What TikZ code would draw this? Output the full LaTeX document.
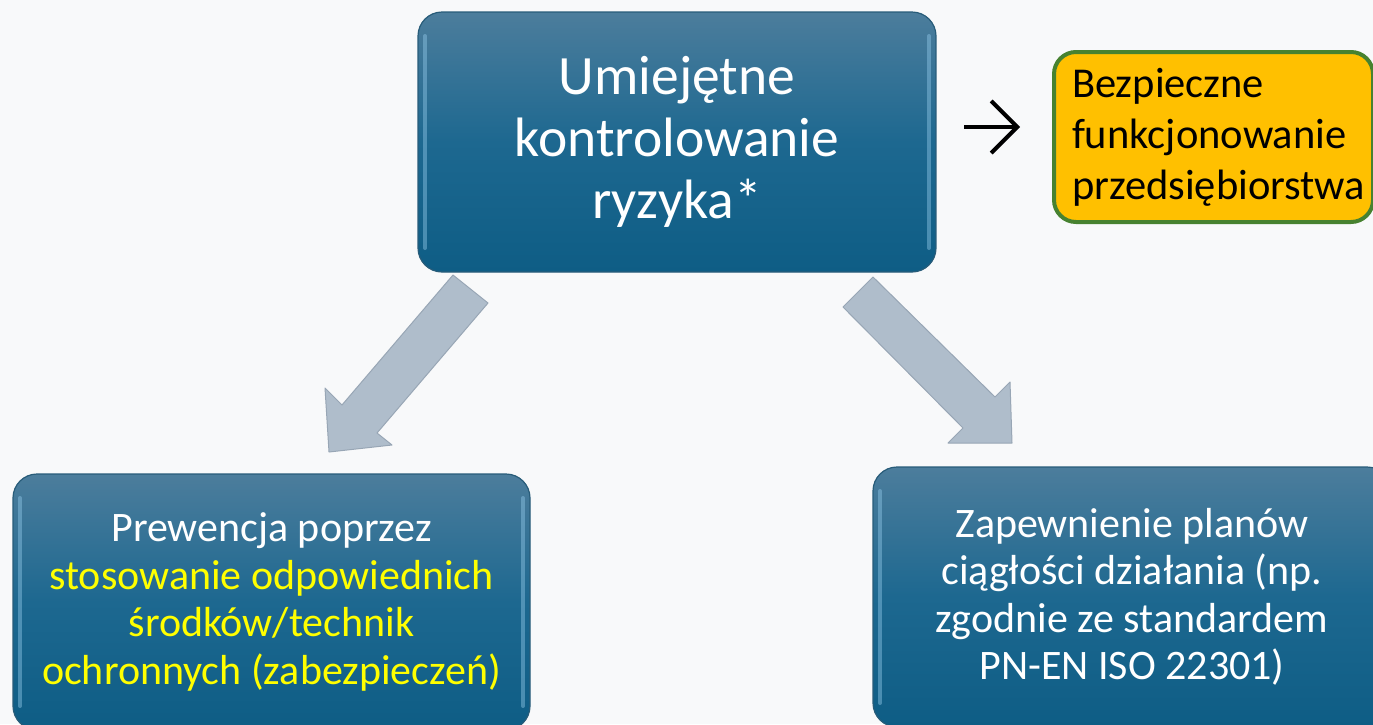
\documentclass[tikz,border=0pt]{standalone}
\usepackage{fontspec}
\setmainfont{Carlito}
\usetikzlibrary{arrows.meta}
\definecolor{bg}{HTML}{F8F9FA}
\definecolor{boxtop}{HTML}{4C7D9C}
\definecolor{boxmid}{HTML}{1D6890}
\definecolor{boxbot}{HTML}{0E5D85}
\definecolor{boxedge}{HTML}{285C79}
\definecolor{gloss}{HTML}{8FC6E6}
\definecolor{arrfill}{HTML}{AFBDCB}
\definecolor{arredge}{HTML}{98A6B5}
\definecolor{goldfill}{HTML}{FFC000}
\definecolor{goldedge}{HTML}{478230}
\definecolor{hl}{HTML}{FFFF00}
\begin{document}
\begin{tikzpicture}[x=1pt,y={(0pt,-1pt)},
  bluebox/.style={rounded corners=24pt, top color=boxtop, bottom color=boxbot, middle color=boxmid,
    draw=boxedge, line width=1.2pt, text=white, align=center, inner sep=0pt,
    path picture={
      \draw[gloss, line width=4pt, opacity=.45, line cap=round]
        ([xshift=7pt,yshift=-24pt]path picture bounding box.north west) --
        ([xshift=7pt,yshift=24pt]path picture bounding box.south west);
      \draw[gloss, line width=4pt, opacity=.45, line cap=round]
        ([xshift=-7pt,yshift=-24pt]path picture bounding box.north east) --
        ([xshift=-7pt,yshift=24pt]path picture bounding box.south east);
    }},
  goldbox/.style={rounded corners=22pt, fill=goldfill, draw=goldedge, line width=4pt,
    align=left, inner xsep=18pt, inner ysep=0pt, text=black},
  blockarrow/.style={fill=arrfill, draw=arredge, line width=1pt, line join=round},
  plainarrow/.style={line width=4pt, -{Straight Barb[length=26pt,width=52pt]}},
]
\fill[bg] (0,0) rectangle (1373,724);
\useasboundingbox (0,0) rectangle (1373,724);

% block arrows (connectors from the top box to the bottom boxes)
\coordinate (la1) at (453,275);
\coordinate (la2) at (488,303);
\coordinate (la3) at (377,433);
\coordinate (la4) at (392,445);
\coordinate (latip) at (329,452);
\coordinate (la6) at (325,388);
\coordinate (la7) at (342,405);
\draw[blockarrow] (la1) -- (la2) -- (la3) -- (la4) -- (latip) -- (la6) -- (la7) -- cycle;

\coordinate (ra1) at (873,277);
\coordinate (ra2) at (843,307);
\coordinate (ra3) at (963,428);
\coordinate (ra4) at (948,443);
\coordinate (ratip) at (1012,443);
\coordinate (ra6) at (1010,382);
\coordinate (ra7) at (995,397);
\draw[blockarrow] (ra1) -- (ra2) -- (ra3) -- (ra4) -- (ratip) -- (ra6) -- (ra7) -- cycle;

% boxes
\node[bluebox, minimum width=518pt, minimum height=260pt, font=\fontsize{55.5}{62}\selectfont]
  (top) at (677,142) {Umiejętne\\kontrolowanie\\ryzyka*};

\node[goldbox, text width=283pt, minimum height=170pt, anchor=west, font=\fontsize{42.5}{51}\selectfont]
  (gold) at (1052,137) {Bezpieczne\\funkcjonowanie\\przedsiębiorstwa};

\node[bluebox, minimum width=517pt, minimum height=256pt, font=\fontsize{42}{47.5}\selectfont]
  (prev) at (271.5,602) {Prewencja poprzez\\\textcolor{hl}{stosowanie odpowiednich}\\\textcolor{hl}{środków/technik}\\\textcolor{hl}{ochronnych (zabezpieczeń)}};

\node[bluebox, minimum width=518pt, minimum height=260pt, font=\fontsize{42}{47.5}\selectfont]
  (plan) at (1132,597) {Zapewnienie planów\\ciągłości działania (np.\\zgodnie ze standardem\\PN-EN ISO 22301)};

% small arrow towards the gold box
\coordinate (sa) at (964,127);
\coordinate (sb) at (1020,127);
\draw[plainarrow] (sa) -- (sb);
\end{tikzpicture}
\end{document}
